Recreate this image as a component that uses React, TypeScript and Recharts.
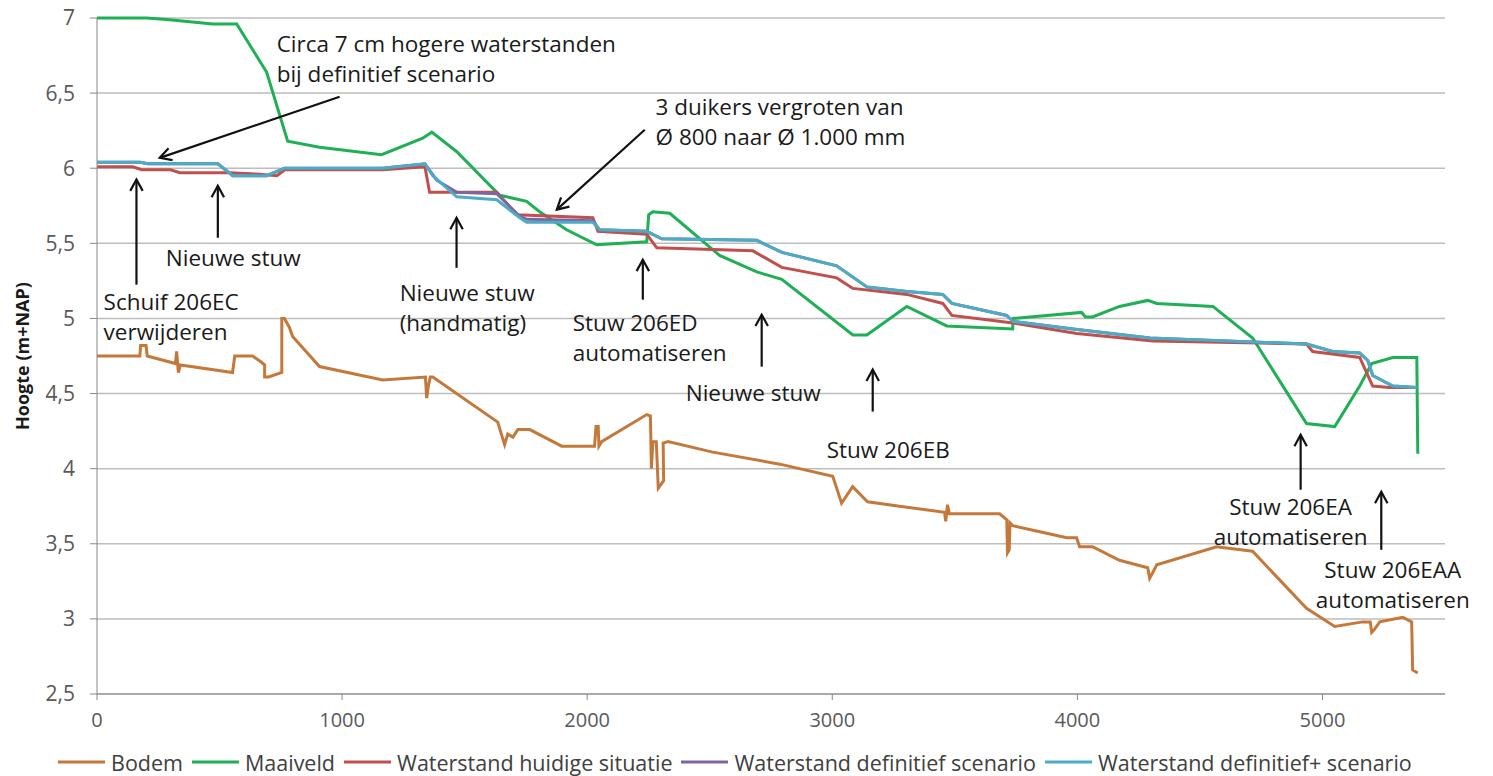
import React from "react";
import {
  CartesianGrid,
  Label,
  Legend,
  Line,
  LineChart,
  ReferenceDot,
  ReferenceLine,
  XAxis,
  YAxis,
} from "recharts";

// afstand (m) , hoogte (m+NAP) per lijn
const bodem: [number, number][] = [
  [0, 4.75], [166, 4.75], [175, 4.75], [178, 4.82], [200, 4.82], [205, 4.75],
  [320, 4.7], [325, 4.78], [332, 4.64], [340, 4.69], [553, 4.64], [562, 4.75],
  [635, 4.75], [670, 4.71], [684, 4.69], [684, 4.61], [700, 4.61], [754, 4.64],
  [754, 5.0], [765, 5.0], [785, 4.94], [798, 4.88], [908, 4.68], [1166, 4.59],
  [1340, 4.61], [1345, 4.47], [1352, 4.55], [1360, 4.61], [1370, 4.61],
  [1635, 4.31], [1663, 4.16], [1676, 4.23], [1697, 4.21], [1717, 4.26],
  [1766, 4.26], [1896, 4.15], [2030, 4.15], [2036, 4.28], [2045, 4.28],
  [2048, 4.15], [2059, 4.18], [2243, 4.36], [2258, 4.35], [2262, 4.0],
  [2268, 4.18], [2282, 4.18], [2290, 3.87], [2312, 3.92], [2310, 4.17],
  [2330, 4.18], [2512, 4.11], [2786, 4.03], [3002, 3.95], [3038, 3.77],
  [3083, 3.88], [3144, 3.78], [3274, 3.75], [3458, 3.71], [3463, 3.65],
  [3470, 3.76], [3478, 3.7], [3683, 3.7], [3712, 3.66], [3715, 3.44],
  [3722, 3.46], [3725, 3.64], [3737, 3.62], [3847, 3.58], [3957, 3.54],
  [3997, 3.54], [4009, 3.48], [4062, 3.48], [4172, 3.39], [4287, 3.34],
  [4295, 3.27], [4305, 3.3], [4324, 3.36], [4568, 3.48], [4715, 3.45],
  [4935, 3.07], [5050, 2.95], [5164, 2.98], [5195, 2.98], [5201, 2.91],
  [5212, 2.93], [5234, 2.98], [5328, 3.01], [5364, 2.98], [5368, 2.66],
  [5389, 2.64],
];

const maaiveld: [number, number][] = [
  [0, 7.0], [203, 7.0], [285, 6.99], [472, 6.96], [570, 6.96], [692, 6.64],
  [778, 6.18], [908, 6.14], [1161, 6.09], [1329, 6.2], [1366, 6.24],
  [1468, 6.11], [1643, 5.82], [1753, 5.78], [1806, 5.71], [1916, 5.59],
  [2039, 5.49], [2243, 5.51], [2251, 5.69], [2267, 5.71], [2337, 5.7],
  [2540, 5.42], [2692, 5.31], [2794, 5.26], [3084, 4.89], [3141, 4.89],
  [3304, 5.08], [3467, 4.95], [3736, 4.93], [3738, 5.0], [4017, 5.04],
  [4033, 5.01], [4062, 5.01], [4172, 5.08], [4287, 5.12], [4324, 5.1],
  [4553, 5.08], [4715, 4.87], [4935, 4.3], [5050, 4.28], [5152, 4.55],
  [5201, 4.7], [5287, 4.74], [5385, 4.74], [5389, 4.1],
];

const huidig: [number, number][] = [
  [0, 6.01], [146, 6.01], [182, 5.99], [300, 5.99], [338, 5.97], [542, 5.97],
  [664, 5.96], [734, 5.95], [766, 5.99], [1166, 5.99], [1338, 6.01],
  [1357, 5.84], [1631, 5.84], [1713, 5.69], [2023, 5.67], [2044, 5.58],
  [2243, 5.56], [2284, 5.47], [2676, 5.45], [2794, 5.34], [3018, 5.27],
  [3084, 5.2], [3304, 5.16], [3451, 5.1], [3488, 5.02], [3737, 4.97],
  [3998, 4.9], [4308, 4.85], [4935, 4.83], [4960, 4.78], [5152, 4.74],
  [5205, 4.55], [5274, 4.54], [5385, 4.54],
];

const definitief: [number, number][] = [
  [0, 6.04], [175, 6.04], [208, 6.03], [493, 6.03], [554, 5.95], [692, 5.95],
  [766, 6.0], [1166, 6.0], [1338, 6.03], [1386, 5.92], [1468, 5.84],
  [1631, 5.83], [1725, 5.68], [1753, 5.66], [2023, 5.65], [2051, 5.59],
  [2243, 5.58], [2304, 5.53], [2692, 5.52], [2794, 5.44], [3018, 5.35],
  [3141, 5.21], [3304, 5.18], [3451, 5.16], [3488, 5.1], [3712, 5.02],
  [3737, 4.98], [3982, 4.93], [4296, 4.87], [4935, 4.83], [5042, 4.78],
  [5152, 4.77], [5185, 4.72], [5205, 4.62], [5287, 4.55], [5385, 4.54],
];

const definitiefPlus: [number, number][] = [
  [0, 6.04], [175, 6.04], [208, 6.03], [493, 6.03], [554, 5.95], [692, 5.95],
  [766, 6.0], [1166, 6.0], [1338, 6.03], [1370, 5.95], [1468, 5.81],
  [1631, 5.79], [1725, 5.67], [1753, 5.64], [2023, 5.64], [2051, 5.59],
  [2243, 5.58], [2304, 5.53], [2692, 5.52], [2794, 5.44], [3018, 5.35],
  [3141, 5.21], [3304, 5.18], [3451, 5.16], [3488, 5.1], [3712, 5.02],
  [3737, 4.98], [3982, 4.93], [4296, 4.87], [4935, 4.83], [5042, 4.78],
  [5152, 4.77], [5185, 4.72], [5205, 4.62], [5287, 4.55], [5385, 4.54],
];

const xTicks = [0, 1000, 2000, 3000, 4000, 5000];
const yTicks = [2.5, 3, 3.5, 4, 4.5, 5, 5.5, 6, 6.5, 7];

// pijlen: van (x1,y1) naar punt (x2,y2)
const arrows: [number, number, number, number][] = [
  [990, 6.476, 256, 6.069],
  [2235, 6.256, 1876, 5.724],
  [161, 5.225, 161, 5.925],
  [493, 5.537, 493, 5.883],
  [1467, 5.337, 1467, 5.67],
  [2227, 5.125, 2227, 5.391],
  [2712, 4.679, 2712, 5.025],
  [3165, 4.38, 3165, 4.66],
  [4911, 3.86, 4911, 4.225],
  [5240, 3.46, 5240, 3.846],
];

const notes: { x: number; y: number; anchor: "start" | "middle"; lines: string[] }[] = [
  { x: 733, y: 6.829, anchor: "start", lines: ["Circa 7 cm hogere waterstanden", "bij definitief scenario"] },
  { x: 2279, y: 6.409, anchor: "start", lines: ["3 duikers vergroten van", "Ø 800 naar Ø 1.000 mm"] },
  { x: 27, y: 5.111, anchor: "start", lines: ["Schuif 206EC", "verwijderen"] },
  { x: 281, y: 5.404, anchor: "start", lines: ["Nieuwe stuw"] },
  { x: 1235, y: 5.171, anchor: "start", lines: ["Nieuwe stuw", "(handmatig)"] },
  { x: 1941, y: 4.971, anchor: "start", lines: ["Stuw 206ED", "automatiseren"] },
  { x: 2402, y: 4.505, anchor: "start", lines: ["Nieuwe stuw"] },
  { x: 2977, y: 4.125, anchor: "start", lines: ["Stuw 206EB"] },
  { x: 4870, y: 3.746, anchor: "middle", lines: ["Stuw 206EA", "automatiseren"] },
  { x: 5287, y: 3.326, anchor: "middle", lines: ["Stuw 206EAA", "automatiseren"] },
];

const series = [
  { name: "Bodem", data: bodem, color: "#C4793A" },
  { name: "Maaiveld", data: maaiveld, color: "#1FAF55" },
  { name: "Waterstand huidige situatie", data: huidig, color: "#C0504D" },
  { name: "Waterstand definitief scenario", data: definitief, color: "#8064A2" },
  { name: "Waterstand definitief+ scenario", data: definitiefPlus, color: "#4BACC6" },
];

const toPoints = (pts: [number, number][]) => pts.map(([x, y]) => ({ x, y }));

const FONT = "'Open Sans', Lato, sans-serif";

function ArrowShape(props: any) {
  const { x1, y1, x2, y2 } = props;
  const ang = Math.atan2(y2 - y1, x2 - x1);
  const len = 13;
  const spread = 0.5;
  const ax = x2 - len * Math.cos(ang - spread);
  const ay = y2 - len * Math.sin(ang - spread);
  const bx = x2 - len * Math.cos(ang + spread);
  const by = y2 - len * Math.sin(ang + spread);
  return (
    <g stroke="#111" strokeWidth={2.2} fill="none">
      <line x1={x1} y1={y1} x2={x2} y2={y2} />
      <polyline points={`${ax},${ay} ${x2},${y2} ${bx},${by}`} strokeLinejoin="miter" />
    </g>
  );
}

function noteShape(lines: string[], anchor: "start" | "middle") {
  return (props: any) => (
    <g>
      {lines.map((t, i) => (
        <text
          key={i}
          x={props.cx}
          y={props.cy + i * 30}
          textAnchor={anchor}
          dominantBaseline="central"
          fontSize={22.5}
          fill="#1a1a1a"
          fontFamily={FONT}
        >
          {t}
        </text>
      ))}
    </g>
  );
}

function YTitle(props: any) {
  const vb = props.viewBox;
  const x = 22;
  const y = vb.y + vb.height / 2;
  return (
    <text
      x={x}
      y={y}
      transform={`rotate(-90, ${x}, ${y})`}
      textAnchor="middle"
      dominantBaseline="central"
      fontSize={18}
      fontWeight="bold"
      fill="#1a1a1a"
      fontFamily={FONT}
    >
      Hoogte (m+NAP)
    </text>
  );
}

function LegendBox() {
  return (
    <div
      style={{
        height: 30,
        display: "flex",
        alignItems: "center",
        justifyContent: "flex-start",
        paddingLeft: 58,
        fontFamily: FONT,
        fontSize: 21.5,
        color: "#404040",
        paddingTop: 2,
        boxSizing: "border-box",
      }}
    >
      {series.map((s) => (
        <div key={s.name} style={{ display: "flex", alignItems: "center", marginRight: 9 }}>
          <svg width={47} height={6} style={{ marginRight: 6 }}>
            <line x1={0} y1={3} x2={47} y2={3} stroke={s.color} strokeWidth={3} />
          </svg>
          <span>{s.name}</span>
        </div>
      ))}
    </div>
  );
}

export default function App() {
  return (
    <div style={{ position: "absolute", left: 0, top: 0, width: 1493, height: 776, background: "#fff", fontFamily: FONT }}>
      <LineChart width={1493} height={776} margin={{ top: 18, right: 48, bottom: 0, left: 0 }}>
        <CartesianGrid vertical={false} stroke="#BDBDBD" strokeWidth={1.5} />
        <XAxis
          type="number"
          dataKey="x"
          domain={[0, 5500]}
          ticks={xTicks}
          height={52}
          tickSize={6}
          tickMargin={13}
          stroke="#888"
          tick={{ fill: "#595959", fontSize: 20 }}
        />
        <YAxis
          type="number"
          dataKey="y"
          domain={[2.5, 7]}
          ticks={yTicks}
          width={97}
          tickSize={7}
          tickMargin={15}
          stroke="#888"
          tick={{ fill: "#595959", fontSize: 21 }}
          tickFormatter={(v) => String(v).replace(".", ",")}
        >
          <Label content={<YTitle />} />
        </YAxis>
        <Legend verticalAlign="bottom" content={<LegendBox />} />
        {series.map((s) => (
          <Line
            key={s.name}
            name={s.name}
            data={toPoints(s.data)}
            dataKey="y"
            type="linear"
            stroke={s.color}
            strokeWidth={3}
            dot={false}
            activeDot={false}
            isAnimationActive={false}
          />
        ))}
        {arrows.map(([x1, y1, x2, y2], i) => (
          <ReferenceLine
            key={`a${i}`}
            segment={[{ x: x1, y: y1 }, { x: x2, y: y2 }]}
            ifOverflow="visible"
            shape={ArrowShape}
          />
        ))}
        {notes.map((n, i) => (
          <ReferenceDot
            key={`n${i}`}
            x={n.x}
            y={n.y}
            r={0}
            ifOverflow="visible"
            shape={noteShape(n.lines, n.anchor)}
          />
        ))}
      </LineChart>
    </div>
  );
}
